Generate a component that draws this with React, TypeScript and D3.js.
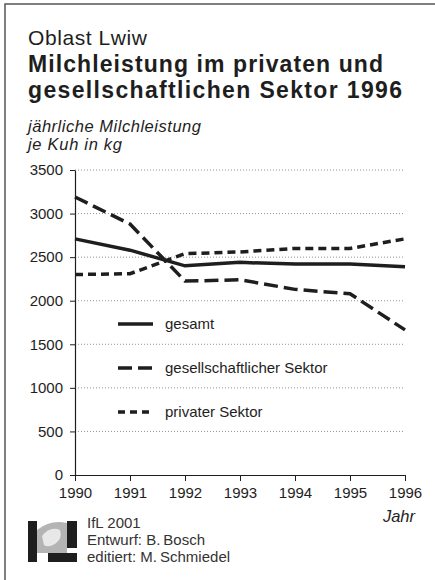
import { useEffect, useRef } from "react";
import * as d3 from "d3";

const years = [1990, 1991, 1992, 1993, 1994, 1995, 1996];
const gesamt = [2710, 2580, 2400, 2440, 2420, 2420, 2390];
const gesellschaftlich = [3190, 2880, 2225, 2240, 2130, 2080, 1665];
const privat = [2300, 2310, 2540, 2560, 2600, 2600, 2710];
const yTicks = [0, 500, 1000, 1500, 2000, 2500, 3000, 3500];

const seriesNames = ["gesamt", "gesellschaftlicher Sektor", "privater Sektor"];
const dashes = ["none", "14,6", "8,5"];

const font = "'Liberation Sans', Arial, Helvetica, sans-serif";
const ink = "#1e1e1e";

export default function App() {
  const svgRef = useRef<SVGSVGElement | null>(null);

  useEffect(() => {
    const svg = d3.select(svgRef.current);
    svg.selectAll("*").remove();

    const width = 435;
    const height = 580;
    const left = 75, right = 405, top = 170, bottom = 475;

    svg.append("rect").attr("width", width).attr("height", height).attr("fill", "white");

    // frame, only top and left edge are visible
    svg.append("path")
      .attr("d", `M5,${height} L5,4 L${width},4`)
      .attr("fill", "none")
      .attr("stroke", "#555")
      .attr("stroke-width", 1.5);

    // headings (the original type runs wider, so stretch the spacing)
    const head = svg.append("g").attr("font-family", font).attr("fill", ink);
    head.append("text").attr("x", 28).attr("y", 45).attr("font-size", 21)
      .attr("textLength", 119).attr("lengthAdjust", "spacing").text("Oblast Lwiw");
    head.append("text").attr("x", 28).attr("y", 72).attr("font-size", 23).attr("font-weight", "bold")
      .attr("textLength", 355).attr("lengthAdjust", "spacing").text("Milchleistung im privaten und");
    head.append("text").attr("x", 28).attr("y", 98).attr("font-size", 23).attr("font-weight", "bold")
      .attr("textLength", 374).attr("lengthAdjust", "spacing").text("gesellschaftlichen Sektor 1996");
    head.append("text").attr("x", 28).attr("y", 132).attr("font-size", 16.5).attr("font-style", "italic")
      .attr("textLength", 173).attr("lengthAdjust", "spacing").text("jährliche Milchleistung");
    head.append("text").attr("x", 28).attr("y", 150).attr("font-size", 16.5).attr("font-style", "italic")
      .attr("textLength", 94).attr("lengthAdjust", "spacing").text("je Kuh in kg");

    const x = d3.scaleLinear().domain([1990, 1996]).range([left, right]);
    const y = d3.scaleLinear().domain([0, 3500]).range([bottom, top]);

    // dotted grid
    svg.append("g").selectAll("line")
      .data(yTicks.filter(d => d > 0))
      .enter()
      .append("line")
      .attr("x1", left).attr("x2", right)
      .attr("y1", d => y(d)).attr("y2", d => y(d))
      .attr("stroke", "#777")
      .attr("stroke-width", 0.8)
      .attr("stroke-dasharray", "1,2");

    // y axis
    const yAxis = svg.append("g")
      .attr("transform", `translate(${left},0)`)
      .call(d3.axisLeft(y).tickValues(yTicks).tickFormat(d3.format("d")).tickSize(5).tickPadding(7).tickSizeOuter(0));
    yAxis.select(".domain").attr("stroke", ink).attr("stroke-width", 1.2);
    yAxis.selectAll(".tick line").attr("stroke", ink);
    yAxis.selectAll("text").attr("font-family", font).attr("font-size", 15).attr("fill", ink);

    // x axis
    const xAxis = svg.append("g")
      .attr("transform", `translate(0,${bottom})`)
      .call(d3.axisBottom(x).tickValues(years).tickFormat(d3.format("d")).tickSize(6).tickPadding(6).tickSizeOuter(0));
    xAxis.select(".domain").attr("stroke", ink).attr("stroke-width", 1.2);
    xAxis.selectAll(".tick line").attr("stroke", ink);
    xAxis.selectAll("text").attr("font-family", font).attr("font-size", 15).attr("fill", ink);

    svg.append("text")
      .attr("x", 415).attr("y", 522)
      .attr("text-anchor", "end")
      .attr("font-family", font).attr("font-size", 16.5).attr("font-style", "italic")
      .attr("fill", ink)
      .text("Jahr");

    // lines
    const series = [gesamt, gesellschaftlich, privat];
    const line = d3.line<number>()
      .x((_, i) => x(years[i]))
      .y(d => y(d));

    series.forEach((s, i) => {
      svg.append("path")
        .datum(s)
        .attr("d", line)
        .attr("fill", "none")
        .attr("stroke", ink)
        .attr("stroke-width", 3.5)
        .attr("stroke-dasharray", dashes[i]);
    });

    // legend
    const legendTop = 324, legendStep = 44;
    const lg = svg.append("g");
    seriesNames.forEach((name, i) => {
      const ly = legendTop + i * legendStep;
      lg.append("line")
        .attr("x1", 118).attr("x2", 153)
        .attr("y1", ly).attr("y2", ly)
        .attr("stroke", ink)
        .attr("stroke-width", 3.5)
        .attr("stroke-dasharray", i === 1 ? "14,6" : i === 2 ? "7,5" : "none");
      lg.append("text")
        .attr("x", 165).attr("y", ly + 5)
        .attr("font-family", font).attr("font-size", 15)
        .attr("fill", ink)
        .text(name);
    });

    // logo
    const logo = svg.append("g");
    logo.append("path")
      .attr("d", "M37,553 L37,530 A36,36 0 0 1 67,523 L67,553 Z")
      .attr("fill", "#b4b4b4");
    logo.append("path")
      .attr("d", "M42,536 Q50,526 60,530 Q63,538 55,544 Q48,548 44,545 Z")
      .attr("fill", "#e8e8e8");
    logo.append("rect").attr("x", 28).attr("y", 521).attr("width", 9).attr("height", 41).attr("fill", ink);
    logo.append("rect").attr("x", 67).attr("y", 521).attr("width", 10).attr("height", 27).attr("fill", ink);
    logo.append("rect").attr("x", 48).attr("y", 553).attr("width", 29).attr("height", 9).attr("fill", ink);

    const credits = ["IfL 2001", "Entwurf: B.\u2009Bosch", "editiert: M.\u2009Schmiedel"];
    svg.append("g").selectAll("text")
      .data(credits)
      .enter()
      .append("text")
      .attr("x", 87)
      .attr("y", (_, i) => 528 + i * 17)
      .attr("font-family", font).attr("font-size", 15)
      .attr("fill", "#333")
      .text(d => d);
  }, []);

  return (
    <svg
      ref={svgRef}
      width={435}
      height={580}
      style={{ position: "absolute", left: 0, top: 0 }}
    />
  );
}
